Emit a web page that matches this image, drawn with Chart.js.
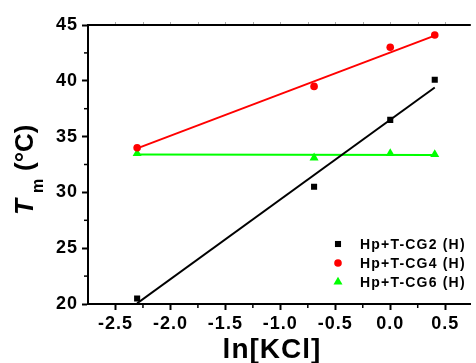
<!DOCTYPE html>
<html>
<head>
<meta charset="utf-8">
<script src="https://cdn.jsdelivr.net/npm/chart.js@4/dist/chart.umd.min.js"></script>
<style>
html,body{margin:0;padding:0;background:#fff;}
canvas{display:block;}
</style>
</head>
<body>
<canvas id="c" width="476" height="363"></canvas>
<script>
// ---- data ----
const lnKCl = [-2.303, -0.693, 0, 0.405];
const cg2 = [20.5, 30.5, 36.5, 40.1];
const cg4 = [34.0, 39.5, 43.0, 44.1];
const cg6 = [33.5, 33.1, 33.5, 33.4];
const fitX = [-2.303, 0.405];
const fitCG2 = [20.06, 39.4];
const fitCG4 = [33.95, 44.05];
const fitCG6 = [33.4, 33.35];
const seriesNames = ['Hp+T-CG2 (H)', 'Hp+T-CG4 (H)', 'Hp+T-CG6 (H)'];
const xTickValues = [-2.5, -2.0, -1.5, -1.0, -0.5, 0.0, 0.5];
const xMinorTicks = [-2.25, -1.75, -1.25, -0.75, -0.25, 0.25];
const yMinorTicks = [22.5, 27.5, 32.5, 37.5, 42.5];
const xTitle = 'ln[KCl]';

const FONT = "'Liberation Sans', Arial, sans-serif";
const colors = ['#000000', '#ff0000', '#00ff00'];
const styles = ['rect', 'circle', 'triangle'];
const radii = [4.3, 3.8, 5.2];

function pts(xs, ys){ return xs.map((x,i)=>({x:x, y:ys[i]})); }

const fits = [fitCG2, fitCG4, fitCG6];
const datas = [cg2, cg4, cg6];
const datasets = [];
fits.forEach((f,i)=>{
  datasets.push({type:'line', label:'fit'+i, data:pts(fitX,f), borderColor:colors[i], borderWidth:2,
    pointRadius:0, fill:false, tension:0, order:2});
});
datas.forEach((d,i)=>{
  datasets.push({type:'scatter', label:seriesNames[i], data:pts(lnKCl,d), backgroundColor:colors[i],
    borderColor:colors[i], borderWidth:0, pointStyle:styles[i], pointRadius:radii[i], order:1});
});

function drawMarker(ctx, style, x, y, r, color){
  ctx.fillStyle = color;
  ctx.beginPath();
  if(style==='rect'){
    const s = r*Math.SQRT2;
    ctx.rect(x-s/2, y-s/2, s, s);
  } else if(style==='circle'){
    ctx.arc(x, y, r, 0, Math.PI*2);
  } else {
    const h = r*1.5, w = r*1.732;
    ctx.moveTo(x, y - h*2/3);
    ctx.lineTo(x + w/2, y + h/3);
    ctx.lineTo(x - w/2, y + h/3);
    ctx.closePath();
  }
  ctx.fill();
}

const decor = {
  id:'decor',
  beforeDraw(chart){ chart.ctx.letterSpacing = '1px'; },
  afterDraw(chart){
    const ctx = chart.ctx;
    const a = chart.chartArea;
    const xs = chart.scales.x, ys = chart.scales.y;
    ctx.save();
    ctx.letterSpacing = '0px';
    // top frame line
    ctx.strokeStyle = '#000'; ctx.lineWidth = 2;
    ctx.beginPath(); ctx.moveTo(a.left-1, a.top); ctx.lineTo(a.right, a.top); ctx.stroke();
    // faint top ticks
    ctx.strokeStyle = '#aaa'; ctx.lineWidth = 1;
    xTickValues.concat(xMinorTicks).forEach(v=>{
      const px = Math.round(xs.getPixelForValue(v))+0.5;
      ctx.beginPath(); ctx.moveTo(px, a.top-1); ctx.lineTo(px, a.top-3); ctx.stroke();
    });
    // minor ticks
    ctx.strokeStyle = '#000'; ctx.lineWidth = 1.5;
    xMinorTicks.forEach(v=>{
      const px = xs.getPixelForValue(v);
      ctx.beginPath(); ctx.moveTo(px, a.bottom); ctx.lineTo(px, a.bottom+4); ctx.stroke();
    });
    yMinorTicks.forEach(v=>{
      const py = ys.getPixelForValue(v);
      ctx.beginPath(); ctx.moveTo(a.left, py); ctx.lineTo(a.left-4, py); ctx.stroke();
    });
    // x title
    ctx.fillStyle = '#000';
    ctx.letterSpacing = '1px';
    ctx.font = "bold 28px " + FONT;
    ctx.textAlign = 'center'; ctx.textBaseline = 'alphabetic';
    ctx.fillText(xTitle, 272, 358);
    // y title (rotated)
    ctx.save();
    ctx.translate(33, 215);
    ctx.rotate(-Math.PI/2);
    ctx.letterSpacing = '0px';
    ctx.textAlign = 'left';
    ctx.font = "italic bold 26px " + FONT;
    ctx.fillText('T', 0, 0);
    ctx.font = "bold 16px " + FONT;
    ctx.fillText('m', 22, 10);
    ctx.font = "bold 26px " + FONT;
    ctx.fillText('(\u00B0C)', 44, 0);
    ctx.restore();
    // legend
    const ly = [244, 263, 282];
    ctx.letterSpacing = '1.2px';
    ctx.font = "bold 14px " + FONT;
    ctx.textAlign = 'left'; ctx.textBaseline = 'middle';
    seriesNames.forEach((n,i)=>{
      drawMarker(ctx, styles[i], 338, ly[i], radii[i], colors[i]);
      ctx.fillStyle = '#000';
      ctx.fillText(n, 360, ly[i]+1);
    });
    ctx.restore();
    ctx.letterSpacing = '0px';
  }
};

new Chart(document.getElementById('c'), {
  data:{datasets:datasets},
  options:{
    responsive:false, animation:false, devicePixelRatio:1,
    layout:{padding:{top:25, right:0, left:0, bottom:0}},
    plugins:{legend:{display:false}, tooltip:{enabled:false}},
    scales:{
      x:{type:'linear', min:-2.75, max:0.733,
        afterBuildTicks(s){ s.ticks = xTickValues.map(v=>({value:v})); },
        afterFit(s){ s.height = 59; },
        grid:{drawOnChartArea:false, drawTicks:true, tickLength:6, tickColor:'#000', tickWidth:2},
        border:{display:true, color:'#000', width:2},
        ticks:{color:'#000', padding:3, maxRotation:0, autoSkip:false,
          font:{family:FONT, weight:'bold', size:18},
          callback(v){ return Number(v).toFixed(1); }}
      },
      y:{type:'linear', min:20, max:45,
        afterFit(s){ s.width = 88; },
        grid:{drawOnChartArea:false, drawTicks:true, tickLength:6, tickColor:'#000', tickWidth:2},
        border:{display:true, color:'#000', width:2},
        ticks:{color:'#000', padding:4, stepSize:5, autoSkip:false,
          font:{family:FONT, weight:'bold', size:18}}
      }
    }
  },
  plugins:[decor]
});
</script>
</body>
</html>
